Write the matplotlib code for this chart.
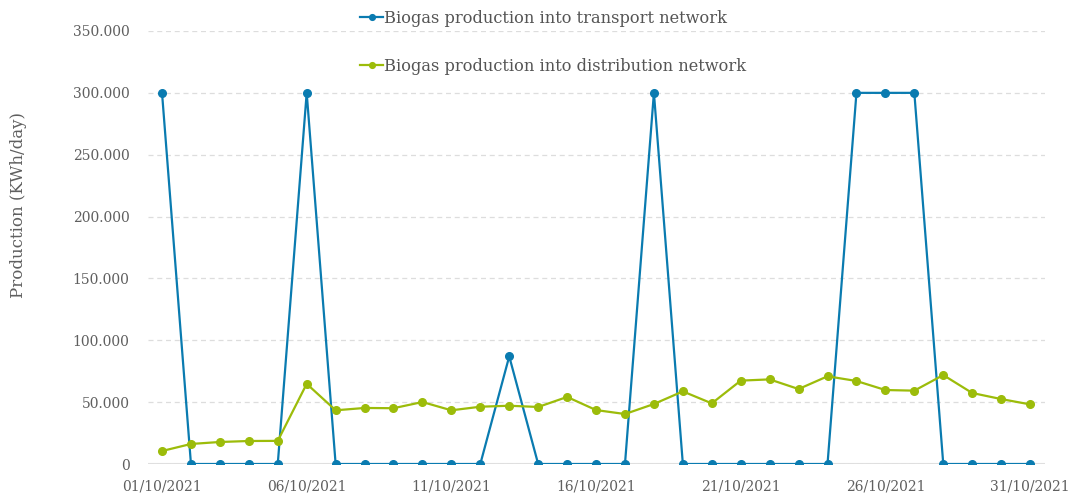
import matplotlib.pyplot as plt
from matplotlib.ticker import FuncFormatter, MultipleLocator

plt.rcParams['font.family'] = ['DejaVu Serif']

days = list(range(1, 32))
transport = [300000, 0, 0, 0, 0, 300000, 0, 0, 0, 0, 0, 0, 87000, 0, 0, 0, 0,
             300000, 0, 0, 0, 0, 0, 0, 300000, 300000, 300000, 0, 0, 0, 0]
distribution = [10500, 16200, 17800, 18600, 18700, 64800, 43400, 45300, 45100,
                50100, 43400, 46300, 47100, 46100, 54200, 43600, 40400, 48500,
                58700, 49000, 67400, 68400, 60600, 70900, 67100, 59800, 59300,
                71900, 57400, 52500, 48200]
tick_days = [1, 6, 11, 16, 21, 26, 31]
tick_labels = ['%02d/10/2021' % d for d in tick_days]

blue = '#0a7bb0'
green = '#9cbc0a'
grey = '#5f5f5f'

fig = plt.figure(figsize=(10.7, 4.96), dpi=100)
ax = fig.add_axes([0.1379, 0.0645, 0.8383, 0.873])

ax.plot(days, transport, color=blue, lw=1.6, marker='o', ms=5.5,
        label='Biogas production into transport network', zorder=3)
ax.plot(days, distribution, color=green, lw=1.6, marker='o', ms=5.5,
        label='Biogas production into distribution network', zorder=3)

ax.set_xlim(0.5, 31.5)
ax.set_ylim(0, 350000)
ax.yaxis.set_major_locator(MultipleLocator(50000))


def fmt(v, pos):
    if v == 0:
        return '0'
    return '{:,.0f}'.format(v).replace(',', '.')


ax.yaxis.set_major_formatter(FuncFormatter(fmt))
ax.set_xticks(tick_days)
ax.set_xticklabels(tick_labels)

ax.grid(axis='y', color='#dddddd', ls=(0, (4, 3)), lw=0.9)
ax.axhline(0, color='#e0e0e0', lw=1.5, zorder=1)
for s in ax.spines.values():
    s.set_visible(False)
ax.tick_params(length=0, labelsize=10, colors=grey)
ax.tick_params(axis='x', pad=11)
ax.tick_params(axis='y', pad=13)
ax.set_ylabel('Production (KWh/day)', fontsize=12, color=grey)
ax.yaxis.set_label_coords(-0.1345, 0.598)

leg = ax.legend(loc='upper left', bbox_to_anchor=(352 / 1070, 1 - 2 / 496),
                bbox_transform=fig.transFigure, frameon=False, borderpad=0,
                fontsize=11.7, labelcolor='#555555', handlelength=1.4,
                handletextpad=0.1, labelspacing=1.88, markerscale=0.75)

fig.savefig('out.png', dpi=100)
